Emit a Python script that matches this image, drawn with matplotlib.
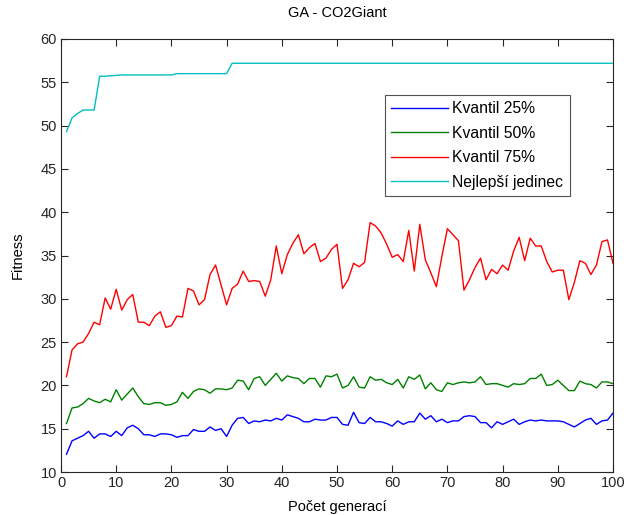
import matplotlib
matplotlib.use("Agg")
import matplotlib.pyplot as plt
import numpy as np

generations = list(range(1, 101))

q25 = [12.05, 13.6, 13.9, 14.2, 14.7, 13.9, 14.4, 14.4, 14.1, 14.7,
       14.2, 15.1, 15.4, 15.0, 14.3, 14.3, 14.1, 14.4, 14.4, 14.3,
       14.0, 14.2, 14.2, 14.9, 14.7, 14.7, 15.2, 14.8, 15.0, 14.1,
       15.4, 16.2, 16.3, 15.6, 15.9, 15.8, 16.0, 15.9, 16.2, 16.0,
       16.6, 16.4, 16.2, 15.8, 15.8, 16.1, 16.0, 16.0, 16.3, 16.3,
       15.5, 15.4, 16.9, 15.7, 15.6, 16.3, 15.8, 15.8, 15.6, 15.3,
       15.9, 15.5, 15.8, 15.8, 16.8, 16.1, 16.5, 15.8, 16.1, 15.7,
       15.9, 15.9, 16.4, 16.5, 16.4, 15.7, 15.7, 15.1, 15.8, 15.5,
       15.8, 16.1, 15.5, 15.8, 16.0, 15.9, 16.0, 15.9, 15.9, 15.9,
       15.8, 15.5, 15.2, 15.6, 16.0, 16.2, 15.5, 15.9, 16.0, 16.8]

q50 = [15.6, 17.4, 17.5, 17.9, 18.5, 18.2, 18.0, 18.4, 18.1, 19.5,
       18.3, 19.0, 19.7, 18.7, 17.9, 17.8, 18.0, 18.0, 17.7, 17.8,
       18.1, 19.2, 18.5, 19.3, 19.6, 19.5, 19.1, 19.6, 19.6, 19.5,
       19.7, 20.6, 20.5, 19.5, 20.8, 21.0, 20.0, 20.7, 21.4, 20.5,
       21.1, 20.9, 20.8, 20.2, 20.8, 20.8, 19.8, 21.1, 21.0, 21.3,
       19.7, 20.0, 21.0, 19.8, 19.7, 21.0, 20.6, 20.7, 20.3, 20.1,
       20.7, 19.7, 21.0, 20.7, 21.2, 19.6, 20.3, 19.5, 19.3, 20.3,
       20.1, 20.3, 20.4, 20.3, 20.4, 21.0, 20.1, 20.2, 20.2, 20.0,
       19.8, 20.2, 20.1, 20.2, 20.8, 20.8, 21.3, 20.0, 20.1, 20.6,
       20.0, 19.4, 19.4, 20.5, 20.2, 20.1, 19.7, 20.4, 20.4, 20.2]

q75 = [21.0, 24.1, 24.8, 25.0, 26.0, 27.3, 27.0, 30.1, 28.8, 31.1,
       28.7, 29.9, 30.5, 27.3, 27.3, 26.9, 28.0, 28.5, 26.7, 26.9,
       28.0, 27.9, 31.2, 30.9, 29.3, 29.9, 32.8, 33.9, 31.6, 29.3,
       31.2, 31.7, 33.2, 32.0, 32.1, 32.0, 30.3, 32.2, 36.1, 32.9,
       35.1, 36.4, 37.4, 35.2, 35.9, 36.4, 34.3, 34.7, 35.7, 36.3,
       31.2, 32.2, 34.1, 33.7, 34.2, 38.8, 38.4, 37.6, 36.3, 34.8,
       35.1, 34.3, 37.9, 33.2, 38.6, 34.5, 33.0, 31.4, 34.9, 38.1,
       37.4, 36.7, 31.0, 32.2, 33.6, 34.7, 32.2, 33.4, 32.9, 33.9,
       33.3, 35.5, 37.1, 34.4, 37.0, 36.1, 36.1, 34.3, 33.1, 33.3,
       33.3, 29.9, 31.9, 34.4, 34.1, 32.8, 33.9, 36.6, 36.8, 34.1]

best = [49.3, 50.9, 51.4, 51.8, 51.8, 51.8, 55.7, 55.7, 55.75, 55.8] + \
       [55.85] * 10 + [56.0] * 10 + [57.2] * 70

labels = ["Kvantil 25%", "Kvantil 50%", "Kvantil 75%", "Nejlepší jedinec"]
colors = ["#0000ff", "#008000", "#ff0000", "#00bfbf"]

plt.rcParams['font.family'] = ['Liberation Sans', 'DejaVu Sans']

fig = plt.figure(figsize=(6.24, 5.15), dpi=100)
ax = fig.add_axes([61/624, 1-472/515, (613-61)/624, (472-39)/515])

for series, lab, col in zip([q25, q50, q75, best], labels, colors):
    ax.plot(generations, series, color=col, lw=1.0, label=lab)

ax.set_xlim(0, 100)
ax.set_ylim(10, 60)
ax.set_xticks(np.arange(0, 101, 10))
ax.set_yticks(np.arange(10, 61, 5))
ax.tick_params(direction='in', top=True, right=True, length=5, width=0.8,
               labelsize=10.5, pad=3, colors='#262626')
for s in ax.spines.values():
    s.set_linewidth(0.8)
    s.set_color('#262626')

ax.set_title("GA - CO2Giant", fontsize=10.5, pad=16)
ax.set_xlabel("Počet generací", fontsize=10.5, labelpad=7)
ax.set_ylabel("Fitness", fontsize=10.5, labelpad=11)

leg = ax.legend(loc='upper left', bbox_to_anchor=(385/624, 1-95/515),
                bbox_transform=fig.transFigure, fontsize=11.3, frameon=True,
                fancybox=False, edgecolor='#262626', handlelength=3.6,
                handletextpad=0.3, labelspacing=0.6, borderpad=0.4,
                borderaxespad=0)
leg.get_frame().set_linewidth(0.8)

fig.savefig("out.png", dpi=100)
